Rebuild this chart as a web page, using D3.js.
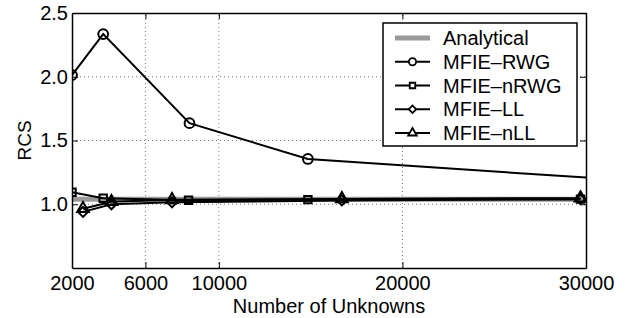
<!DOCTYPE html>
<html>
<head>
<meta charset="utf-8">
<script src="https://cdn.jsdelivr.net/npm/d3@7"></script>
<style>
  body { margin: 0; background: #fff; }
  svg { display: block; font-family: "Liberation Sans", Arial, sans-serif; }
</style>
</head>
<body>
<svg id="chart" width="627" height="318"></svg>
<script>
// data
const xTicks = [2000, 6000, 10000, 20000, 30000];
const yTicks = [1.0, 1.5, 2.0, 2.5];

const analyticalX = [2000, 30000];
const analyticalY = [1.04, 1.04];

const rwgX = [2000, 3700, 8400, 14850, 33000];
const rwgY = [2.013, 2.335, 1.636, 1.355, 1.18];

const nrwgX = [2000, 3700, 8350, 14850, 29700];
const nrwgY = [1.094, 1.047, 1.032, 1.036, 1.04];

const llX = [2600, 4150, 7450, 16700, 29700];
const llY = [0.94, 1.0, 1.015, 1.03, 1.04];

const nllX = [2600, 4150, 7450, 16700, 29700];
const nllY = [0.965, 1.02, 1.035, 1.042, 1.048];

const series = [
  { name: "MFIE\u2013RWG", xs: rwgX, ys: rwgY, sym: "circle" },
  { name: "MFIE\u2013nRWG", xs: nrwgX, ys: nrwgY, sym: "square" },
  { name: "MFIE\u2013LL", xs: llX, ys: llY, sym: "diamond" },
  { name: "MFIE\u2013nLL", xs: nllX, ys: nllY, sym: "triangle" }
];

const margin = { left: 72, right: 41, top: 13, bottom: 50 };
const width = 627, height = 318;
const svg = d3.select("#chart");

const x = d3.scaleLinear().domain([2000, 30000]).range([margin.left, width - margin.right]);
const y = d3.scaleLinear().domain([0.5, 2.5]).range([height - margin.bottom, margin.top]);

// grid
const grid = svg.append("g")
  .attr("stroke", "#777").attr("stroke-width", 1).attr("stroke-dasharray", "1,3");
grid.selectAll(".gx").data(xTicks.slice(1, -1)).join("line")
  .attr("x1", d => x(d)).attr("x2", d => x(d))
  .attr("y1", y(0.5)).attr("y2", y(2.5));
grid.selectAll(".gy").data(yTicks.slice(0, -1)).join("line")
  .attr("x1", x(2000)).attr("x2", x(30000))
  .attr("y1", d => y(d)).attr("y2", d => y(d));

svg.append("clipPath").attr("id", "clip")
  .append("rect")
  .attr("x", x(2000)).attr("y", y(2.5))
  .attr("width", x(30000) - x(2000)).attr("height", y(0.5) - y(2.5));

const plot = svg.append("g").attr("clip-path", "url(#clip)");

const line = d3.line().x(d => x(d[0])).y(d => y(d[1]));

plot.append("path")
  .datum(d3.zip(analyticalX, analyticalY))
  .attr("d", line)
  .attr("fill", "none").attr("stroke", "#9a9a9a").attr("stroke-width", 5);

// matlab style diamond = square turned 45deg
const symType = {
  circle: d3.symbolCircle, square: d3.symbolSquare,
  diamond: d3.symbolSquare, triangle: d3.symbolTriangle
};
const symSize = { circle: 75, square: 55, diamond: 50, triangle: 60 };
const symRot = s => s === "diamond" ? " rotate(45)" : "";

series.forEach(s => {
  const pts = d3.zip(s.xs, s.ys);
  plot.append("path").datum(pts).attr("d", line)
    .attr("fill", "none").attr("stroke", "#000").attr("stroke-width", 2);
  plot.selectAll(null).data(pts).join("path")
    .attr("transform", d => `translate(${x(d[0])},${y(d[1])})` + symRot(s.sym))
    .attr("d", d3.symbol().type(symType[s.sym]).size(symSize[s.sym]))
    .attr("fill", "none").attr("stroke", "#000").attr("stroke-width", 2);
});

// frame and axes
const xAxis = svg.append("g")
  .attr("transform", `translate(0,${y(0.5)})`)
  .call(d3.axisBottom(x).tickValues(xTicks).tickSizeInner(-6).tickSizeOuter(0).tickPadding(8)
    .tickFormat(d3.format("d")));
const xTop = svg.append("g")
  .attr("transform", `translate(0,${y(2.5)})`)
  .call(d3.axisTop(x).tickValues(xTicks).tickSizeInner(-6).tickSizeOuter(0).tickFormat(""));
const yAxis = svg.append("g")
  .attr("transform", `translate(${x(2000)},0)`)
  .call(d3.axisLeft(y).tickValues(yTicks).tickSizeInner(-6).tickSizeOuter(0).tickPadding(4)
    .tickFormat(d3.format(".1f")));
const yRight = svg.append("g")
  .attr("transform", `translate(${x(30000)},0)`)
  .call(d3.axisRight(y).tickValues(yTicks).tickSizeInner(-6).tickSizeOuter(0).tickFormat(""));

[xAxis, xTop, yAxis, yRight].forEach(g => {
  g.select(".domain").attr("stroke", "#000").attr("stroke-width", 1.5);
  g.selectAll(".tick line").attr("stroke", "#000").attr("stroke-width", 1);
  g.selectAll(".tick text").attr("font-size", 20).attr("fill", "#000")
    .attr("font-family", "Liberation Sans, Arial, sans-serif");
});

svg.append("text")
  .attr("x", (x(2000) + x(30000)) / 2).attr("y", 313)
  .attr("text-anchor", "middle").attr("font-size", 20)
  .text("Number of Unknowns");

svg.append("text")
  .attr("transform", `translate(31,${(y(0.5) + y(2.5)) / 2}) rotate(-90)`)
  .attr("text-anchor", "middle").attr("font-size", 19)
  .text("RCS");

// legend
const legend = svg.append("g").attr("transform", "translate(383,23)");
legend.append("rect").attr("width", 194).attr("height", 123)
  .attr("fill", "#fff").attr("stroke", "#000").attr("stroke-width", 1.5);

const legendItems = [{ name: "Analytical", sym: null }].concat(series);
const rowY = d3.scaleLinear().domain([0, 4]).range([15, 110]);
legendItems.forEach((s, i) => {
  const ry = rowY(i);
  const row = legend.append("g").attr("transform", `translate(0,${ry})`);
  if (s.sym === null) {
    row.append("line").attr("x1", 12).attr("x2", 47)
      .attr("stroke", "#9a9a9a").attr("stroke-width", 5);
  } else {
    row.append("line").attr("x1", 12).attr("x2", 47)
      .attr("stroke", "#000").attr("stroke-width", 2);
    row.append("path").attr("transform", "translate(29.5,0)" + symRot(s.sym))
      .attr("d", d3.symbol().type(symType[s.sym]).size(symSize[s.sym] * 0.55))
      .attr("fill", "#fff").attr("stroke", "#000").attr("stroke-width", 1.8);
  }
  row.append("text").attr("x", 60).attr("y", 7).attr("font-size", 20).text(s.name);
});
</script>
</body>
</html>
